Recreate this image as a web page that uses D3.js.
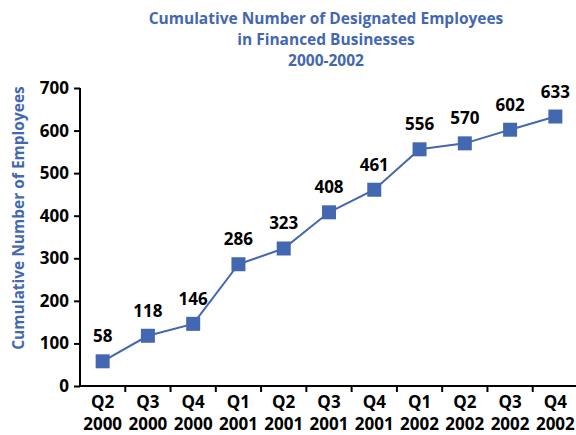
<!DOCTYPE html>
<html>
<head>
<meta charset="utf-8">
<script src="https://cdn.jsdelivr.net/npm/d3@7"></script>
<style>
  body { margin: 0; background: #fff; }
  svg text { font-family: "Open Sans", "DejaVu Sans", sans-serif; font-weight: bold; }
</style>
</head>
<body>
<svg id="chart" width="576" height="435"></svg>
<script>
// chart data
const quarters = ["Q2", "Q3", "Q4", "Q1", "Q2", "Q3", "Q4", "Q1", "Q2", "Q3", "Q4"];
const years = ["2000", "2000", "2000", "2001", "2001", "2001", "2001", "2002", "2002", "2002", "2002"];
const employees = [58, 118, 146, 286, 323, 408, 461, 556, 570, 602, 633];
const yTicks = [0, 100, 200, 300, 400, 500, 600, 700];
const titleLines = ["Cumulative Number of Designated Employees", "in Financed Businesses", "2000-2002"];

const blue = "#4467b1";

// plot area
const plotLeft = 80, plotRight = 578, plotTop = 88, plotBottom = 386;

const svg = d3.select("#chart");

const x = d3.scaleBand()
    .domain(d3.range(employees.length))
    .range([plotLeft, plotRight]);

const y = d3.scaleLinear()
    .domain([0, 700])
    .range([plotBottom, plotTop]);

const cx = i => x(i) + x.bandwidth() / 2;

// title
svg.append("g")
  .selectAll("text")
  .data(titleLines)
  .join("text")
    .attr("x", 326)
    .attr("y", (d, i) => 24 + i * 21)
    .attr("text-anchor", "middle")
    .attr("fill", blue)
    .attr("font-size", 15.5)
    .text(d => d);

// y axis label
svg.append("text")
    .attr("transform", `translate(24,${(plotTop + plotBottom) / 2 - 19}) rotate(-90)`)
    .attr("text-anchor", "middle")
    .attr("fill", blue)
    .attr("font-size", 15.5)
    .text("Cumulative Number of Employees");

// y axis
const yAxis = svg.append("g")
    .attr("transform", `translate(${plotLeft},0)`)
    .call(d3.axisLeft(y).tickValues(yTicks).tickSize(6).tickPadding(5));
yAxis.select(".domain")
    .attr("d", `M0,${plotTop}V${plotBottom}`)
    .attr("stroke", "#000").attr("stroke-width", 2);
yAxis.selectAll(".tick line").attr("stroke", "#000").attr("stroke-width", 2);
yAxis.selectAll(".tick text")
    .attr("font-size", 17)
    .attr("fill", "#000")
    .attr("font-family", "\"Open Sans\", \"DejaVu Sans\", sans-serif")
    .attr("font-weight", "bold");

// x axis, ticks between categories
const xAxis = svg.append("g")
    .attr("transform", `translate(0,${plotBottom})`);
xAxis.append("line")
    .attr("x1", plotLeft).attr("x2", plotRight)
    .attr("y1", 0).attr("y2", 0);
xAxis.selectAll(".sep")
  .data(d3.range(1, employees.length + 1))
  .join("line")
    .attr("class", "sep")
    .attr("x1", i => i < employees.length ? x(i) : plotRight - 1)
    .attr("x2", i => i < employees.length ? x(i) : plotRight - 1)
    .attr("y1", 0).attr("y2", 6);
xAxis.selectAll("line").attr("stroke", "#000").attr("stroke-width", 2);

const xl = xAxis.selectAll(".lbl")
  .data(d3.range(employees.length))
  .join("text")
    .attr("class", "lbl")
    .attr("text-anchor", "middle")
    .attr("font-size", 17)
    .attr("fill", "#000");
xl.append("tspan").attr("x", cx).attr("y", 22).text(i => quarters[i]);
xl.append("tspan").attr("x", cx).attr("y", 44).text(i => years[i]);

// line
const line = d3.line()
    .x((d, i) => cx(i))
    .y(d => y(d));

svg.append("path")
    .datum(employees)
    .attr("fill", "none")
    .attr("stroke", blue)
    .attr("stroke-width", 2)
    .attr("d", line);

// markers
const ms = 14;
svg.append("g")
  .selectAll("rect")
  .data(employees)
  .join("rect")
    .attr("x", (d, i) => cx(i) - ms / 2)
    .attr("y", d => y(d) - ms / 2)
    .attr("width", ms)
    .attr("height", ms)
    .attr("fill", blue);

// value labels
svg.append("g")
  .selectAll("text")
  .data(employees)
  .join("text")
    .attr("x", (d, i) => cx(i))
    .attr("y", d => y(d) - 19)
    .attr("text-anchor", "middle")
    .attr("font-size", 17)
    .attr("fill", "#000")
    .text(d => d);
</script>
</body>
</html>
